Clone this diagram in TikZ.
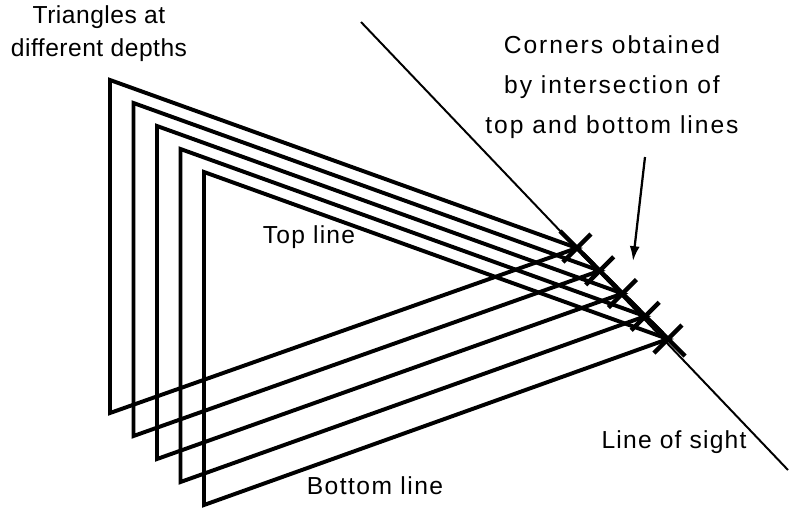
\documentclass[tikz,border=0pt]{standalone}
\usepackage{fontspec}
\setmainfont{Liberation Sans}
\usetikzlibrary{arrows.meta}

\begin{document}
\begin{tikzpicture}[x=0.025cm,y=-0.025cm,>=Latex,
 lbl/.style={align=center,inner sep=0pt,font=\fontsize{17.5}{21}\selectfont\addfontfeature{LetterSpace=5}},
 tri/.style={line width=2.8pt,line join=miter},
 cross/.style={line width=3.2pt},
 sight/.style={line width=1.4pt},
 arr/.style={line width=1.6pt,-{Latex[length=0.37cm,width=0.25cm]}}]
\path[use as bounding box] (0,0) rectangle (789,509);
% line of sight
\coordinate (eye) at (361,22);
\coordinate (far) at (788,470);
\draw[sight] (eye) -- (far);
% triangles, one per depth
\foreach \i in {0,...,4}{
 \coordinate (t\i) at ({110+23.5*\i},{80+23*\i});
 \coordinate (b\i) at ({110+23.5*\i},{413+23*\i});
 \coordinate (c\i) at ({577+22.75*\i},{248+22.75*\i});
 \draw[tri] (t\i) -- (c\i) -- (b\i) -- cycle;
}
% crosses on the corners
\foreach \i in {0,...,4}{
 \draw[cross] ([shift={(-14,14)}]c\i) -- ([shift={(14,-14)}]c\i);
 \draw[cross] ([shift={(-17,-17)}]c\i) -- ([shift={(17,17)}]c\i);
}
\node[lbl,font=\fontsize{17.5}{23.5}\selectfont\addfontfeature{LetterSpace=2}] (depths) at (99,34) {Triangles at\\different depths};
\node[lbl,font=\fontsize{17.5}{28.4}\selectfont\addfontfeature{LetterSpace=8}] (corners) at (612,87) {Corners obtained\\by intersection of\\top and bottom lines};
\node[lbl] (toplbl) at (309,237) {Top line};
\node[lbl,font=\fontsize{17.5}{21}\selectfont\addfontfeature{LetterSpace=6}] (botlbl) at (375,486) {Bottom line};
\node[lbl] (sightlbl) at (674,442) {Line of sight};
\coordinate (tail) at (645,157);
\coordinate (tip) at (633,261);
\draw[arr] (tail) -- (tip);
\end{tikzpicture}
\end{document}
